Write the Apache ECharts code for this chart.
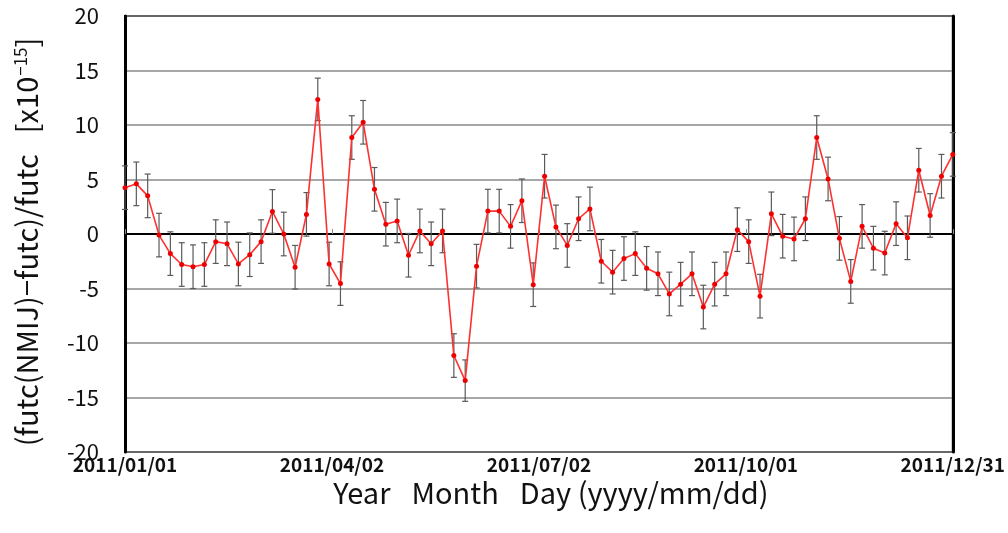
<!DOCTYPE html>
<html>
<head>
<meta charset="utf-8">
<script src="https://cdn.jsdelivr.net/npm/echarts@6/dist/echarts.min.js"></script>
<style>
html,body{margin:0;padding:0;background:#fff;}
#chart{width:1008px;height:533px;}
</style>
</head>
<body>
<div id="chart"></div>
<script>
// Day offsets from 2011/01/01 of each measurement
const DAYS = [0,5,10,15,20,25,30,35,40,45,50,55,60,65,70,75,80,85,90,95,
  100,105,110,115,120,125,130,135,140,145,150,155,160,165,170,175,180,185,190,195,
  200,205,210,215,220,225,230,235,240,245,250,255,260,265,270,275,280,285,290,295,
  300,305,310,315,320,325,330,335,340,345,350,355,360,365];
// (futc(NMIJ)-futc)/futc  [x1e-15]
const VALUES = [4.25,4.6,3.5,-0.1,-1.8,-2.8,-3.0,-2.8,-0.7,-0.9,
  -2.75,-1.9,-0.7,2.07,0.0,-3.05,1.8,12.35,-2.75,-4.55,
  8.85,10.25,4.1,0.9,1.2,-1.95,0.28,-0.9,0.28,-11.15,
  -13.45,-2.95,2.1,2.1,0.7,3.05,-4.65,5.3,0.65,-1.05,
  1.4,2.3,-2.5,-3.5,-2.25,-1.8,-3.15,-3.65,-5.5,-4.6,
  -3.65,-6.7,-4.6,-3.65,0.4,-0.7,-5.7,1.85,-0.2,-0.45,
  1.4,8.85,5.05,-0.4,-4.35,0.7,-1.3,-1.75,0.95,-0.35,
  5.85,1.7,5.3,7.3];
// Uncertainty (error bar half-length)
const ERRORS = [2.0,2.0,2.0,2.0,2.0,2.0,2.0,2.0,2.0,2.0,
  2.0,2.0,2.0,2.0,2.0,2.0,2.0,1.95,2.0,2.0,
  2.0,2.0,2.0,2.0,2.0,2.0,2.0,2.0,2.0,2.0,
  1.9,2.0,2.0,2.0,2.0,2.0,2.0,2.0,2.0,2.0,
  2.0,2.0,2.0,2.0,2.0,2.0,2.0,2.0,2.0,2.0,
  2.0,2.0,2.0,2.0,2.0,2.0,2.0,2.0,2.0,2.0,
  2.0,2.0,2.0,2.0,2.0,2.0,2.0,2.0,2.0,2.0,
  2.0,2.0,2.0,2.0];
const X_TICK_LABELS = ['2011/01/01','2011/04/02','2011/07/02','2011/10/01','2011/12/31'];
const Y_TICKS_STEP = 5;
const X_TITLE = 'Year\u2002 Month\u2002 Day (yyyy/mm/dd)';
const Y_TITLE = '(futc(NMIJ)\u2212futc)/futc\u2002 [x10{sup|\u221215}]';

const lineData = DAYS.map((d,i)=>[d, VALUES[i]]);
const errData = DAYS.map((d,i)=>[d, VALUES[i]-ERRORS[i], VALUES[i]+ERRORS[i]]);
const X_MAX = 365, X_STEP = X_MAX/4;

const chart = echarts.init(document.getElementById('chart'), null, {renderer:'canvas'});
chart.setOption({
  animation:false,
  backgroundColor:'#fff',
  grid:{left:125, right:55, top:16, bottom:81, show:true, borderColor:'#000', borderWidth:2},
  graphic:[{
    type:'text', x:27, y:242, rotation:Math.PI/2,
    style:{text:Y_TITLE, fontFamily:'Noto Sans CJK JP', fontSize:29, fill:'#111',
      align:'center', verticalAlign:'middle',
      rich:{sup:{fontFamily:'Noto Sans CJK JP', fontSize:17, fill:'#111', verticalAlign:'top', padding:[0,0,12,1]}}}
  }],
  xAxis:{
    type:'value', min:0, max:X_MAX, interval:X_STEP,
    axisLine:{show:true, lineStyle:{color:'#000', width:2}},
    axisTick:{show:true, inside:true, length:5, lineStyle:{color:'#888', width:1}},
    splitLine:{show:false},
    axisLabel:{
      formatter:(v)=>X_TICK_LABELS[Math.round(v/X_STEP)] || '',
      fontFamily:'Noto Sans CJK JP', fontWeight:'bold', fontSize:19, color:'#111', margin:3
    },
    name:X_TITLE,
    nameLocation:'middle', nameGap:26,
    nameTextStyle:{fontFamily:'Noto Sans CJK JP', fontSize:29, color:'#111', padding:[0,0,0,24]}
  },
  yAxis:[{
    type:'value', min:-20, max:20, interval:Y_TICKS_STEP,
    axisLine:{show:true, lineStyle:{color:'#000', width:3}},
    axisTick:{show:false},
    splitLine:{show:true, lineStyle:{color:'#8a8a8a', width:1.5}},
    axisLabel:{fontFamily:'Noto Sans CJK JP', fontSize:22, color:'#111', margin:26}
  },{
    type:'value', min:-20, max:20, interval:Y_TICKS_STEP, position:'right',
    axisLine:{show:true, onZero:false, lineStyle:{color:'#000', width:3}},
    axisTick:{show:false}, axisLabel:{show:false}, splitLine:{show:false}
  }],
  series:[{
    type:'custom',
    data:errData,
    z:2,
    clip:false,
    renderItem:(params, api)=>{
      const x = api.value(0);
      const lo = api.coord([x, api.value(1)]);
      const hi = api.coord([x, api.value(2)]);
      const w = 3;
      const st = {stroke:'#5a5a5a', lineWidth:1.2};
      return {type:'group', children:[
        {type:'line', shape:{x1:lo[0], y1:lo[1], x2:hi[0], y2:hi[1]}, style:st},
        {type:'line', shape:{x1:lo[0]-w, y1:lo[1], x2:lo[0]+w, y2:lo[1]}, style:st},
        {type:'line', shape:{x1:hi[0]-w, y1:hi[1], x2:hi[0]+w, y2:hi[1]}, style:st}
      ]};
    }
  },{
    type:'line',
    data:lineData,
    z:3,
    clip:false,
    symbol:'circle', symbolSize:5,
    lineStyle:{color:'#ff3030', width:1.6},
    itemStyle:{color:'#ee0000'}
  }]
});
</script>
</body>
</html>
